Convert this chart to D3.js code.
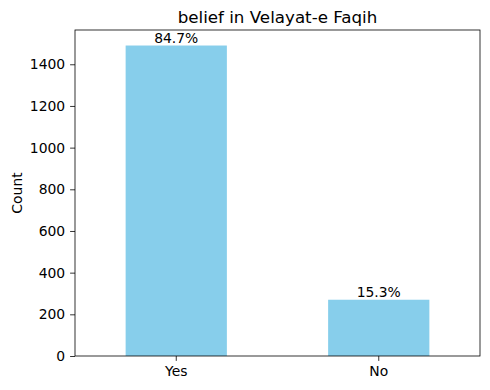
<!DOCTYPE html>
<html>
<head>
<meta charset="utf-8">
<script src="https://cdn.jsdelivr.net/npm/d3@7"></script>
<style>
  body { margin: 0; background: #fff; }
  text { font-family: "DejaVu Sans", sans-serif; fill: #000; }
</style>
</head>
<body>
<svg class="canvas"></svg>
<script>
// chart data
var categories = ["Yes", "No"];
var counts = [1490, 270];
var yTicks = [0, 200, 400, 600, 800, 1000, 1200, 1400];

var dwidth = 490;
var dheight = 390;
var axL = 75, axR = 480, axT = 30, axB = 356;

var canv = d3.select(".canvas").attr("width", dwidth).attr("height", dheight);

var total = d3.sum(counts);

// scales
var sx = d3.scaleBand().domain(categories).range([axL, axR]).paddingInner(0.5).paddingOuter(0.25);
var sy = d3.scaleLinear().domain([0, d3.max(counts) * 1.05]).range([axB, axT]);

// bars
canv.selectAll("rect.bar")
  .data(categories)
  .enter()
  .append("rect")
  .attr("class", "bar")
  .attr("x", function(d) { return sx(d); })
  .attr("y", function(d, i) { return sy(counts[i]); })
  .attr("width", sx.bandwidth())
  .attr("height", function(d, i) { return axB - sy(counts[i]); })
  .style("fill", "skyblue");

// percent labels
canv.selectAll("text.pct")
  .data(categories)
  .enter()
  .append("text")
  .attr("class", "pct")
  .attr("x", function(d) { return sx(d) + sx.bandwidth() / 2; })
  .attr("y", function(d, i) { return sy(counts[i]) - 3; })
  .attr("font-size", "13.9px")
  .style("text-anchor", "middle")
  .text(function(d, i) { return (counts[i] / total * 100).toFixed(1) + "%"; });

// axes
var xAxis = d3.axisBottom(sx).tickSizeOuter(0).tickSize(4.9).tickPadding(4.9);
var yAxis = d3.axisLeft(sy).tickValues(yTicks).tickFormat(d3.format("d")).tickSizeOuter(0).tickSize(4.9).tickPadding(4.9);

var gx = canv.append("g").attr("transform", "translate(0," + axB + ")").call(xAxis);
var gy = canv.append("g").attr("transform", "translate(" + axL + ",0)").call(yAxis);
[gx, gy].forEach(function(g) {
  g.select(".domain").remove();
  g.selectAll("text").attr("font-size", "13.9px").attr("font-family", "DejaVu Sans, sans-serif").attr("fill", "#000");
  g.selectAll("line").attr("stroke", "#000").attr("stroke-width", 0.8);
});

// frame
canv.append("rect")
  .attr("x", axL).attr("y", axT)
  .attr("width", axR - axL).attr("height", axB - axT)
  .style("fill", "none").style("stroke", "#000").style("stroke-width", 0.8);

// title and y label
canv.append("text")
  .attr("x", (axL + axR) / 2).attr("y", axT - 7)
  .attr("font-size", "16.7px")
  .style("text-anchor", "middle")
  .text("belief in Velayat-e Faqih");

canv.append("text")
  .attr("transform", "translate(21.5," + ((axT + axB) / 2) + ") rotate(-90)")
  .attr("font-size", "13.9px")
  .style("text-anchor", "middle")
  .text("Count");
</script>
</body>
</html>
